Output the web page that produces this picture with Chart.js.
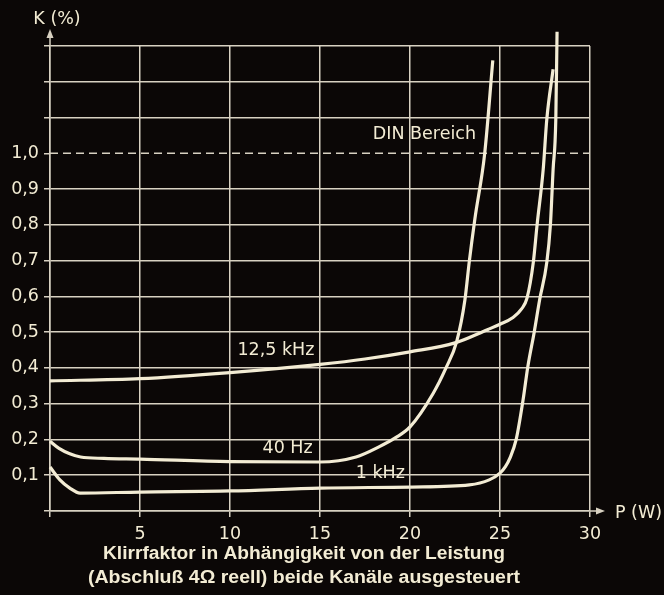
<!DOCTYPE html>
<html>
<head>
<meta charset="utf-8">
<title>Klirrfaktor</title>
<script src="https://cdn.jsdelivr.net/npm/chart.js@4.4.0/dist/chart.umd.min.js"></script>
<style>
html, body { margin: 0; padding: 0; background: #0b0706; }
canvas { display: block; }
</style>
</head>
<body>
<canvas id="c" width="664" height="595"></canvas>
<script>
// Klirrfaktor K (%) über Ausgangsleistung P (W), drei Messfrequenzen

const xTickLabels = ['', '5', '10', '15', '20', '25', '30'];
const yTickLabels = ['', '0,1', '0,2', '0,3', '0,4', '0,5', '0,6', '0,7', '0,8', '0,9', '1,0', '', '', ''];

// 12,5 kHz
const p125 = [0, 5, 10, 15, 17.5, 20, 22.5, 24.3, 25, 25.7, 26.2, 26.5, 26.85, 27.06, 27.4, 27.6, 27.95];
const k125 = [0.364, 0.37, 0.387, 0.41, 0.425, 0.445, 0.47, 0.507, 0.522, 0.54, 0.565, 0.595, 0.695, 0.80, 0.955, 1.095, 1.235];

// 40 Hz
const p40 = [0, 0.5, 1.1, 1.7, 3, 5, 10, 15, 17, 18.3, 19.2, 20, 21.3, 22, 22.6, 23.05, 23.3, 23.6, 24.15, 24.6];
const k40 = [0.195, 0.175, 0.16, 0.151, 0.147, 0.145, 0.138, 0.137, 0.151, 0.18, 0.205, 0.235, 0.33, 0.40, 0.475, 0.59, 0.70, 0.815, 1.0, 1.26];

// 1 kHz
const p1k = [0, 0.55, 1.1, 1.67, 5, 10, 15, 20, 23.3, 24.4, 25, 25.3, 25.55, 25.9, 26.28, 26.55, 26.9, 27.2, 27.6, 27.8, 27.95, 28.1, 28.17];
const k1k = [0.123, 0.087, 0.064, 0.05, 0.053, 0.056, 0.064, 0.067, 0.073, 0.087, 0.106, 0.124, 0.148, 0.20, 0.31, 0.405, 0.50, 0.59, 0.695, 0.80, 0.955, 1.095, 1.34];

// DIN-Grenze
const dinP = [0, 30];
const dinK = [1.0, 1.0];

const INK = '#f3ecd4';
const GRID = '#d8d1c1';
const BG = '#0b0706';
const FONT = '"DejaVu Sans", Verdana, sans-serif';
const CAPFONT = '"Liberation Sans", Arial, Helvetica, sans-serif';

// Beschriftungen an den Kurven (in Achsenwerten)
const curveTags = [
    { text: '12,5 kHz', p: 12.55, k: 0.448 },
    { text: '40 Hz', p: 13.2, k: 0.176 },
    { text: '1 kHz', p: 18.35, k: 0.104 },
    { text: 'DIN Bereich', p: 20.8, k: 1.053 }
];

// Bildunterschrift: Text, Mitte, Grundlinie, Breite
const caption = [
    { text: 'Klirrfaktor in Abhängigkeit von der Leistung', cx: 304, base: 559, w: 402 },
    { text: '(Abschluß 4\u03A9 reell) beide Kanäle ausgesteuert', cx: 304, base: 583, w: 432 }
];

const pts = (xs, ys) => xs.map((x, i) => ({ x: x, y: ys[i] }));

function curve(xs, ys) {
    return {
        data: pts(xs, ys),
        borderColor: INK,
        borderWidth: 3.2,
        pointRadius: 0,
        fill: false,
        cubicInterpolationMode: 'monotone',
        clip: false
    };
}

const decor = {
    id: 'decor',
    beforeDraw(chart) {
        const ctx = chart.ctx;
        ctx.save();
        ctx.fillStyle = BG;
        ctx.fillRect(0, 0, chart.width, chart.height);
        ctx.restore();
    },
    afterDatasetsDraw(chart) {
        const { ctx, chartArea: a, scales: { x, y } } = chart;
        ctx.save();

        // Achsen über das Raster hinaus verlängern, mit Pfeilspitzen
        ctx.strokeStyle = GRID;
        ctx.fillStyle = GRID;
        ctx.lineWidth = 1.5;
        ctx.beginPath();
        ctx.moveTo(a.left, a.top);
        ctx.lineTo(a.left, a.top - 10);
        ctx.moveTo(a.right, a.bottom);
        ctx.lineTo(a.right + 8, a.bottom);
        ctx.stroke();
        ctx.beginPath();
        ctx.moveTo(a.left, a.top - 17);
        ctx.lineTo(a.left - 3.5, a.top - 8);
        ctx.lineTo(a.left + 3.5, a.top - 8);
        ctx.closePath();
        ctx.fill();
        ctx.beginPath();
        ctx.moveTo(a.right + 15, a.bottom);
        ctx.lineTo(a.right + 6, a.bottom - 3.5);
        ctx.lineTo(a.right + 6, a.bottom + 3.5);
        ctx.closePath();
        ctx.fill();

        ctx.fillStyle = INK;
        ctx.font = '17.5px ' + FONT;
        ctx.textBaseline = 'middle';
        ctx.textAlign = 'center';
        ctx.fillText('K (%)', a.left + 7, a.top - 27);
        ctx.textAlign = 'left';
        ctx.fillText('P (W)', a.right + 25, a.bottom + 2);

        ctx.textAlign = 'center';
        curveTags.forEach(t => {
            ctx.fillText(t.text, x.getPixelForValue(t.p), y.getPixelForValue(t.k));
        });

        // Unterschrift, auf die Zeilenbreite gestreckt
        ctx.font = 'bold 17.5px ' + CAPFONT;
        ctx.textBaseline = 'alphabetic';
        caption.forEach(c => {
            const sx = c.w / ctx.measureText(c.text).width;
            ctx.save();
            ctx.translate(c.cx, c.base);
            ctx.scale(sx, 1);
            ctx.fillText(c.text, 0, 0);
            ctx.restore();
        });
        ctx.restore();
    }
};

new Chart(document.getElementById('c'), {
    type: 'line',
    data: {
        datasets: [
            curve(p125, k125),
            curve(p40, k40),
            curve(p1k, k1k),
            {
                data: pts(dinP, dinK),
                borderColor: GRID,
                borderWidth: 1.5,
                borderDash: [8, 5],
                pointRadius: 0,
                fill: false
            }
        ]
    },
    options: {
        responsive: false,
        animation: false,
        layout: { padding: { top: 46, right: 74, left: 0, bottom: 0 } },
        plugins: {
            legend: { display: false },
            tooltip: { enabled: false }
        },
        scales: {
            x: {
                type: 'linear',
                min: 0,
                max: 30,
                afterFit: s => { s.height = 84; },
                ticks: {
                    stepSize: 5,
                    color: INK,
                    font: { family: FONT, size: 17.5 },
                    padding: 7,
                    maxRotation: 0,
                    callback: (v, i) => xTickLabels[i]
                },
                grid: { color: GRID, lineWidth: 1.5, tickLength: 6, tickColor: GRID },
                border: { color: GRID, width: 1.5 }
            },
            y: {
                type: 'linear',
                min: 0,
                max: 1.3,
                afterFit: s => { s.width = 50; },
                ticks: {
                    stepSize: 0.1,
                    color: INK,
                    font: { family: FONT, size: 17.5 },
                    padding: 5,
                    callback: (v, i) => yTickLabels[i]
                },
                grid: {
                    color: c => (c.tick && Math.abs(c.tick.value - 1) < 1e-6) ? 'rgba(0,0,0,0)' : GRID,
                    lineWidth: 1.5,
                    tickLength: 6,
                    tickColor: GRID
                },
                border: { color: GRID, width: 1.5 }
            }
        }
    },
    plugins: [decor]
});
</script>
</body>
</html>
